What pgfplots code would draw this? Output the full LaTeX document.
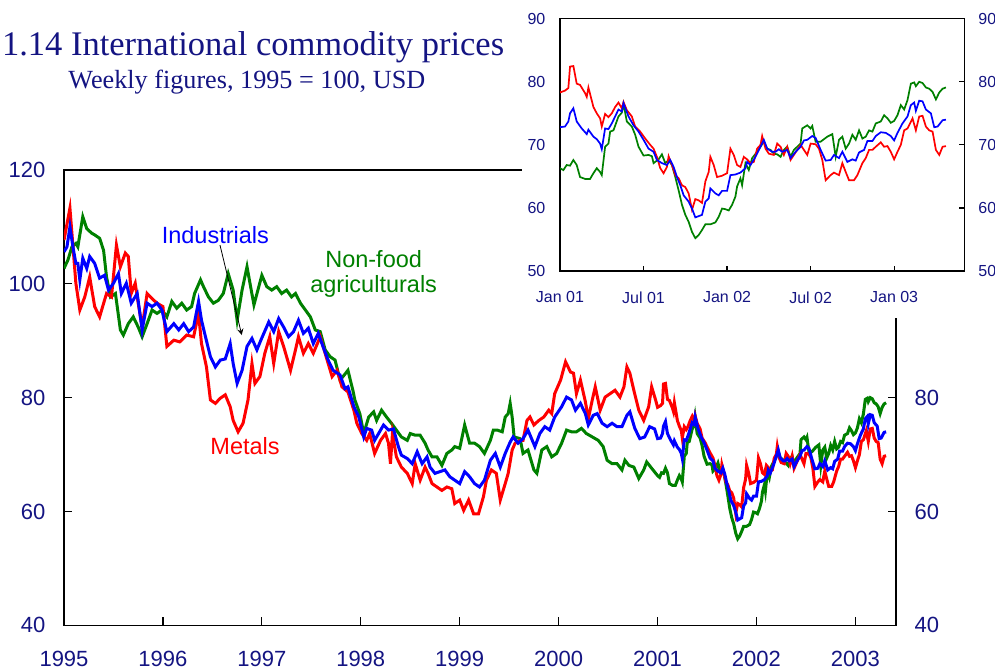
\documentclass[border=0pt]{standalone}
\usepackage{pgfplots}
\pgfplotsset{compat=1.18}
\usepackage{pgfplotstable}
\usepackage{fontspec}
\setmainfont{Liberation Sans}
\newfontfamily\timesfont{Liberation Serif}
\definecolor{navy}{RGB}{20,20,130}
\definecolor{mred}{RGB}{255,0,0}
\definecolor{mblue}{RGB}{0,0,255}
\definecolor{mgreen}{RGB}{0,128,0}

\pgfplotstableread{
x y
1995.00 107.7
1995.06 113.3
1995.12 100.1
1995.16 95.4
1995.21 97.7
1995.26 101.2
1995.31 96.0
1995.36 94.2
1995.43 98.3
1995.48 97.7
1995.53 106.8
1995.57 103.0
1995.62 105.4
1995.65 104.8
1995.68 98.3
1995.72 100.1
1995.75 96.6
1995.79 92.4
1995.84 98.3
1995.89 97.4
1995.94 96.6
1996.00 96.0
1996.04 89.0
1996.11 90.1
1996.17 89.8
1996.24 91.0
1996.31 90.7
1996.36 94.8
1996.39 89.5
1996.44 85.4
1996.48 79.6
1996.53 79.0
1996.58 79.9
1996.63 80.5
1996.68 78.4
1996.71 76.0
1996.76 74.0
1996.81 75.5
1996.86 79.6
1996.90 86.0
1996.93 82.5
1996.98 83.7
1997.03 87.8
1997.08 90.7
1997.12 86.0
1997.17 91.6
1997.22 89.0
1997.29 84.8
1997.34 88.4
1997.37 90.7
1997.42 87.8
1997.47 89.5
1997.52 87.8
1997.59 90.7
1997.66 86.6
1997.71 83.7
1997.76 84.8
1997.81 81.9
1997.87 81.0
1997.93 77.8
1997.96 75.5
1998.01 73.7
1998.06 72.5
1998.09 73.7
1998.14 70.2
1998.20 72.5
1998.25 73.7
1998.28 72.0
1998.30 68.4
1998.32 73.7
1998.36 69.6
1998.41 67.8
1998.47 66.7
1998.52 64.9
1998.55 68.4
1998.60 65.5
1998.65 67.8
1998.68 66.7
1998.72 64.9
1998.77 64.3
1998.82 63.7
1998.87 64.3
1998.92 64.0
1998.95 61.4
1999.00 62.0
1999.04 60.2
1999.09 62.0
1999.14 59.6
1999.19 59.6
1999.24 62.6
1999.27 65.5
1999.32 67.3
1999.37 66.7
1999.41 62.0
1999.46 64.9
1999.49 66.7
1999.53 70.8
1999.56 72.0
1999.61 72.5
1999.64 72.5
1999.68 76.0
1999.71 76.6
1999.75 75.2
1999.80 76.0
1999.85 76.6
1999.90 77.8
1999.93 77.2
1999.96 80.7
2000.02 83.1
2000.07 86.3
2000.12 84.5
2000.15 84.3
2000.18 80.7
2000.22 83.1
2000.27 79.3
2000.30 76.3
2000.34 79.6
2000.37 81.9
2000.42 77.8
2000.47 80.1
2000.52 80.7
2000.57 81.3
2000.62 80.1
2000.66 81.9
2000.69 85.4
2000.72 84.3
2000.76 81.3
2000.81 77.8
2000.86 76.0
2000.91 78.4
2000.94 81.9
2000.98 79.6
2001.00 78.3
2001.03 78.6
2001.05 79.0
2001.06 82.4
2001.08 82.5
2001.10 79.7
2001.12 79.5
2001.15 78.2
2001.16 77.6
2001.17 79.1
2001.20 76.0
2001.22 75.0
2001.24 74.2
2001.25 72.9
2001.27 74.9
2001.29 74.4
2001.31 75.0
2001.33 76.0
2001.35 76.7
2001.37 75.8
2001.38 76.8
2001.40 75.5
2001.43 74.5
2001.45 72.9
2001.48 72.1
2001.51 71.0
2001.54 70.0
2001.56 69.4
2001.58 68.1
2001.60 66.3
2001.62 65.5
2001.64 66.5
2001.65 68.2
2001.67 66.8
2001.69 65.2
2001.71 64.7
2001.73 63.6
2001.75 63.3
2001.77 62.3
2001.79 59.7
2001.81 61.4
2001.83 61.2
2001.85 60.8
2001.87 64.2
2001.89 65.7
2001.90 68.1
2001.92 66.8
2001.94 64.9
2001.97 65.1
2002.00 65.5
2002.02 69.4
2002.04 68.4
2002.06 66.8
2002.08 66.5
2002.10 68.1
2002.12 67.7
2002.14 67.1
2002.16 67.3
2002.18 69.4
2002.20 70.0
2002.21 71.4
2002.23 69.4
2002.25 68.6
2002.28 68.4
2002.30 70.2
2002.32 69.7
2002.34 68.4
2002.36 69.7
2002.38 67.6
2002.41 68.8
2002.44 70.0
2002.46 69.2
2002.48 68.4
2002.50 70.2
2002.53 70.1
2002.55 69.4
2002.57 67.6
2002.59 64.4
2002.62 65.2
2002.64 65.6
2002.67 65.2
2002.69 67.1
2002.71 65.7
2002.73 64.4
2002.76 64.4
2002.78 65.2
2002.81 67.1
2002.83 67.9
2002.85 69.2
2002.87 69.2
2002.89 69.7
2002.92 70.4
2002.94 69.7
2002.96 69.8
2002.98 68.9
2003.00 67.7
2003.02 68.9
2003.04 70.0
2003.06 72.3
2003.08 72.6
2003.11 74.2
2003.13 72.3
2003.15 74.5
2003.17 74.6
2003.19 72.9
2003.21 72.3
2003.23 72.1
2003.25 69.2
2003.27 68.4
2003.29 69.7
2003.31 69.8
}\metals

\pgfplotstableread{
x y
1995.00 105.6
1995.03 106.5
1995.06 110.0
1995.09 106.5
1995.12 103.6
1995.14 103.6
1995.16 100.7
1995.19 104.5
1995.23 102.7
1995.26 104.8
1995.31 103.6
1995.36 101.0
1995.41 101.5
1995.45 98.9
1995.50 100.1
1995.55 101.8
1995.58 98.3
1995.63 100.1
1995.68 96.6
1995.74 98.3
1995.79 91.9
1995.84 96.6
1995.89 96.0
1995.94 96.6
1995.99 95.4
1996.04 91.6
1996.11 93.0
1996.16 91.9
1996.21 93.0
1996.26 91.6
1996.31 92.4
1996.36 96.9
1996.39 93.6
1996.43 90.7
1996.48 87.2
1996.53 85.4
1996.58 86.6
1996.63 86.8
1996.68 89.5
1996.71 86.0
1996.75 82.5
1996.80 84.8
1996.85 89.0
1996.90 90.4
1996.95 88.4
1996.99 90.1
1997.07 93.3
1997.12 91.6
1997.17 93.9
1997.22 92.4
1997.27 90.7
1997.32 91.6
1997.37 93.6
1997.42 91.3
1997.47 92.2
1997.52 89.5
1997.57 91.3
1997.62 88.9
1997.67 86.6
1997.72 84.8
1997.79 84.0
1997.84 81.6
1997.87 81.9
1997.93 78.4
1997.98 76.6
1998.03 73.1
1998.06 74.6
1998.11 74.3
1998.14 72.5
1998.20 74.3
1998.23 75.2
1998.28 74.3
1998.33 74.5
1998.38 71.4
1998.41 69.9
1998.47 69.3
1998.52 68.4
1998.57 70.5
1998.62 68.4
1998.67 69.6
1998.70 67.8
1998.75 66.7
1998.80 67.0
1998.85 67.3
1998.90 66.1
1998.95 65.5
1999.00 64.9
1999.05 67.0
1999.10 66.1
1999.15 64.9
1999.20 64.3
1999.25 65.5
1999.31 69.0
1999.36 70.2
1999.41 67.8
1999.46 70.2
1999.51 72.2
1999.54 73.1
1999.59 72.0
1999.64 72.8
1999.69 74.3
1999.76 71.4
1999.81 73.7
1999.86 74.9
1999.91 74.3
1999.96 76.6
2000.03 78.4
2000.08 80.1
2000.13 79.6
2000.17 77.8
2000.22 79.0
2000.27 77.2
2000.30 75.2
2000.35 76.9
2000.39 77.2
2000.44 75.5
2000.49 74.9
2000.54 75.5
2000.59 74.9
2000.64 74.9
2000.69 76.9
2000.72 77.5
2000.77 74.6
2000.82 72.8
2000.87 73.1
2000.92 74.9
2000.97 74.5
2001.00 72.8
2001.03 72.9
2001.05 73.7
2001.06 75.0
2001.08 75.8
2001.10 73.7
2001.13 72.6
2001.16 71.7
2001.17 72.4
2001.20 71.3
2001.22 70.9
2001.24 70.2
2001.25 69.3
2001.27 72.6
2001.29 72.5
2001.31 73.4
2001.33 74.5
2001.35 75.6
2001.37 75.3
2001.38 76.6
2001.41 74.5
2001.44 73.1
2001.47 72.1
2001.50 70.8
2001.53 69.4
2001.56 68.9
2001.58 67.6
2001.61 67.1
2001.64 66.8
2001.66 67.6
2001.68 66.5
2001.70 64.9
2001.72 63.6
2001.74 62.0
2001.77 61.0
2001.79 59.9
2001.81 58.5
2001.83 58.7
2001.85 58.9
2001.87 61.0
2001.89 61.5
2001.90 63.1
2001.93 62.3
2001.95 62.0
2001.97 62.7
2002.00 62.7
2002.02 65.2
2002.05 65.3
2002.08 65.6
2002.11 66.3
2002.12 67.3
2002.14 66.8
2002.17 68.1
2002.20 69.7
2002.22 70.8
2002.24 69.4
2002.27 68.9
2002.29 68.9
2002.31 69.3
2002.33 68.9
2002.36 69.2
2002.38 67.9
2002.41 68.9
2002.44 69.7
2002.46 70.7
2002.48 70.8
2002.51 71.4
2002.53 71.1
2002.56 69.2
2002.59 67.5
2002.62 67.6
2002.64 68.4
2002.67 67.9
2002.69 68.9
2002.72 67.3
2002.75 67.7
2002.77 67.5
2002.79 68.8
2002.82 69.2
2002.84 70.6
2002.87 70.6
2002.89 71.4
2002.92 72.0
2002.95 71.9
2002.98 71.4
2003.00 70.7
2003.02 71.9
2003.05 73.4
2003.08 74.5
2003.10 76.3
2003.12 76.7
2003.13 75.4
2003.15 77.0
2003.17 76.9
2003.19 75.6
2003.22 75.0
2003.24 72.8
2003.26 72.9
2003.29 73.9
2003.31 74.0
}\indus

\pgfplotstableread{
x y
1995.00 102.7
1995.04 104.2
1995.08 106.5
1995.12 107.1
1995.14 106.5
1995.19 111.8
1995.23 109.7
1995.28 108.9
1995.31 108.6
1995.36 108.0
1995.40 105.9
1995.43 101.2
1995.47 97.7
1995.52 98.3
1995.57 91.9
1995.60 91.0
1995.65 93.0
1995.70 94.2
1995.75 92.4
1995.79 90.7
1995.84 93.0
1995.89 95.4
1995.94 94.8
1995.99 95.4
1996.04 94.2
1996.09 96.9
1996.14 95.7
1996.19 96.6
1996.24 95.4
1996.29 96.0
1996.32 98.3
1996.38 100.7
1996.41 99.5
1996.46 97.7
1996.51 96.6
1996.56 97.1
1996.61 98.3
1996.66 101.8
1996.71 98.9
1996.75 93.6
1996.80 98.9
1996.85 103.0
1996.88 100.1
1996.92 96.3
1996.96 98.9
1997.00 101.5
1997.05 99.5
1997.10 98.9
1997.15 99.5
1997.20 98.3
1997.25 98.9
1997.30 97.7
1997.34 98.3
1997.39 96.6
1997.44 95.4
1997.49 94.2
1997.54 91.9
1997.59 91.6
1997.64 88.4
1997.69 87.2
1997.74 86.6
1997.79 83.1
1997.82 83.7
1997.87 84.8
1997.92 81.3
1997.94 79.6
1997.99 77.2
1998.03 73.7
1998.08 76.6
1998.13 77.5
1998.16 76.0
1998.21 77.8
1998.26 76.6
1998.31 75.5
1998.36 74.3
1998.41 73.1
1998.47 72.5
1998.50 73.7
1998.55 73.4
1998.60 73.4
1998.65 72.0
1998.68 70.8
1998.72 69.6
1998.77 69.6
1998.82 68.1
1998.87 70.2
1998.92 70.8
1998.95 71.4
1999.00 71.1
1999.05 75.2
1999.10 72.0
1999.15 72.0
1999.20 71.4
1999.25 70.2
1999.31 72.5
1999.34 74.3
1999.38 74.3
1999.43 74.0
1999.46 76.6
1999.49 77.2
1999.51 79.0
1999.53 76.6
1999.55 73.1
1999.61 72.8
1999.64 70.2
1999.69 70.8
1999.75 67.3
1999.78 66.7
1999.83 70.8
1999.88 71.4
1999.93 69.6
1999.98 70.2
2000.03 72.0
2000.08 74.3
2000.13 74.0
2000.18 74.0
2000.23 74.6
2000.28 73.7
2000.34 73.1
2000.40 72.5
2000.45 71.4
2000.49 69.0
2000.54 68.4
2000.59 68.4
2000.64 67.3
2000.67 69.0
2000.71 68.1
2000.76 67.8
2000.81 65.8
2000.86 67.3
2000.89 68.7
2000.94 67.6
2001.00 66.3
2001.02 66.0
2001.04 66.8
2001.06 66.7
2001.08 67.6
2001.10 66.8
2001.12 64.9
2001.15 64.6
2001.18 64.6
2001.20 65.5
2001.22 66.3
2001.24 65.7
2001.25 65.2
2001.27 69.7
2001.29 70.2
2001.30 72.1
2001.32 72.3
2001.35 74.5
2001.37 75.1
2001.38 76.5
2001.40 73.7
2001.43 72.9
2001.45 71.6
2001.47 69.7
2001.50 68.3
2001.53 68.4
2001.55 68.2
2001.56 67.1
2001.59 67.7
2001.61 68.5
2001.63 67.1
2001.65 67.6
2001.67 66.8
2001.69 64.9
2001.71 62.8
2001.73 60.5
2001.75 58.9
2001.77 57.8
2001.79 56.2
2001.81 55.2
2001.83 55.7
2001.85 56.5
2001.87 57.4
2001.90 57.4
2001.93 57.7
2001.95 58.6
2001.97 59.9
2001.99 59.8
2002.01 59.6
2002.03 60.5
2002.05 61.8
2002.06 63.4
2002.08 64.7
2002.09 63.6
2002.11 67.1
2002.13 66.0
2002.15 67.9
2002.18 68.9
2002.20 69.7
2002.22 70.5
2002.24 69.4
2002.26 69.2
2002.28 68.6
2002.30 68.5
2002.32 68.1
2002.34 69.2
2002.36 69.7
2002.38 68.1
2002.40 69.2
2002.42 69.7
2002.44 70.2
2002.45 72.6
2002.48 73.1
2002.50 72.6
2002.51 73.0
2002.53 70.5
2002.56 70.5
2002.58 70.9
2002.60 71.3
2002.63 71.7
2002.65 68.1
2002.67 70.8
2002.69 71.3
2002.71 69.4
2002.73 70.2
2002.75 71.6
2002.77 70.8
2002.79 72.3
2002.81 71.0
2002.83 71.3
2002.85 72.3
2002.87 72.1
2002.89 73.4
2002.92 73.7
2002.94 74.7
2002.96 74.2
2002.98 73.5
2003.00 73.8
2003.02 74.7
2003.04 76.3
2003.06 75.6
2003.08 77.1
2003.10 79.7
2003.12 79.9
2003.13 79.3
2003.15 80.0
2003.17 79.8
2003.19 79.1
2003.21 78.9
2003.23 78.4
2003.25 77.2
2003.27 78.3
2003.29 78.9
2003.31 79.1
}\agri

\pgfplotsset{
  common/.style={
    scale only axis,
    axis line style={line width=0.6pt},
    tick style={black, line width=0.6pt},
    /pgf/number format/assume math mode=true,
    /pgf/number format/1000 sep={},
  },
  mainpos/.style={common, at={(32pt,22.85pt)}, anchor=south west,
    width=416pt, height=227.65pt,
    xmin=1995, xmax=2003.41, ymin=40, ymax=120,
    ytick={40,60,80,100,120},
    major tick length=4pt,
    tick label style={font=\fontsize{11}{13}\selectfont, text=navy}},
  insetpos/.style={common, at={(280pt,200pt)}, anchor=south west,
    width=202.15pt, height=126.15pt,
    xmin=2001, xmax=2003.42, ymin=50, ymax=90,
    ytick={50,60,70,80,90},
    major tick length=2.5pt,
    tick label style={font=\fontsize{8}{10}\selectfont, text=navy}},
}

\begin{document}
\begin{tikzpicture}
\path[use as bounding box] (0,0) rectangle (497.5pt,335.5pt);

% main chart
\begin{axis}[mainpos,
  xtick={1995,...,2003},
  xtick pos=bottom, ytick pos=both, yticklabel pos=left,
  xticklabel style={yshift=-9.6pt},
  yticklabel style={xshift=-5.8pt},
]
\addplot[mgreen, line width=1.5pt] table {\agri};
\addplot[mred, line width=1.5pt] table {\metals};
\addplot[mblue, line width=1.5pt] table {\indus};
\node[anchor=base, inner sep=0pt, text=mblue, font=\fontsize{11.75}{14}\selectfont] at (axis cs:1996.53,107.1) {Industrials};
\node[anchor=base, inner sep=0pt, text=mgreen, font=\fontsize{11.75}{14}\selectfont] at (axis cs:1998.13,102.9) {Non-food};
\node[anchor=base, inner sep=0pt, text=mgreen, font=\fontsize{11.75}{14}\selectfont] at (axis cs:1998.13,98.4) {agriculturals};
\node[anchor=base, inner sep=0pt, text=mred, font=\fontsize{11.75}{14}\selectfont] at (axis cs:1996.83,70.07) {Metals};
\draw[-stealth, line width=0.4pt] (axis cs:1996.577,106.8) -- (axis cs:1996.797,91.0);
\end{axis}

% right-hand labels of the main chart
\begin{axis}[mainpos,
  xtick=\empty,
  ytick pos=right, yticklabel pos=right,
  major tick length=0pt,
  axis line style={draw=none},
  yticklabel style={xshift=5.8pt},
]
\end{axis}

% white panel behind the inset
\fill[white] (261pt,176.5pt) rectangle (497.5pt,335.5pt);

% inset
\begin{axis}[insetpos,
  xtick={2001,2001.5,2002,2002.5,2003},
  xticklabels={Jan 01,Jul 01,Jan 02,Jul 02,Jan 03},
  xtick pos=bottom, ytick pos=right, yticklabel pos=left,
  xticklabel style={yshift=-6.8pt},
  yticklabel style={xshift=-3.8pt},
  restrict x to domain=2000.9:2004,
]
\addplot[mgreen, line width=0.85pt] table {\agri};
\addplot[mred, line width=0.85pt] table {\metals};
\addplot[mblue, line width=0.85pt] table {\indus};
\end{axis}

\begin{axis}[insetpos,
  xtick=\empty,
  ytick pos=right, yticklabel pos=right,
  major tick length=0pt,
  axis line style={draw=none},
  yticklabel style={xshift=3.5pt},
]
\end{axis}

% titles
\node[anchor=base west, inner sep=0pt, text=navy, font=\timesfont\fontsize{17.25}{20}\selectfont] at (0.85pt,307.5pt) {1.14 International commodity prices};
\node[anchor=base west, inner sep=0pt, text=navy, font=\timesfont\fontsize{13.1}{16}\selectfont] at (34pt,291.35pt) {Weekly figures, 1995 = 100, USD};
\end{tikzpicture}
\end{document}
